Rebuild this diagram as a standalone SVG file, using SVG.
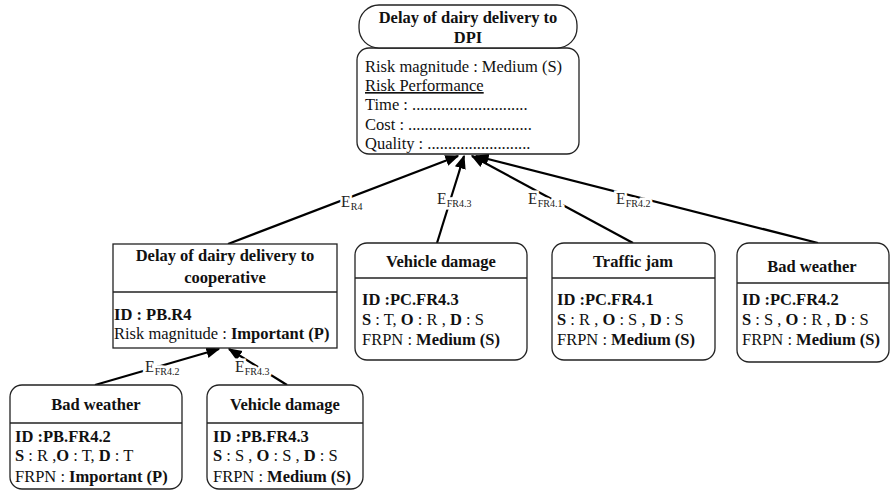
<svg xmlns="http://www.w3.org/2000/svg" width="890" height="492" viewBox="0 0 890 492" font-family="'Liberation Serif', 'DejaVu Serif', serif">
<defs>
<marker id="ahb" viewBox="0 0 10 10" refX="9" refY="5" markerWidth="14" markerHeight="14" markerUnits="userSpaceOnUse" orient="auto">
<path d="M0,1 L10,5 L0,9 z" fill="#000"/>
</marker>
</defs>
<style>
text{font-family:'Liberation Serif','DejaVu Serif',serif;font-size:16.5px;fill:#111}
.t{font-weight:bold;text-anchor:middle}
.b{font-weight:bold}
.box{fill:#fff;stroke:#222;stroke-width:1.3}
.div{stroke:#222;stroke-width:1.3}
.edge{stroke:#000;stroke-width:2.2;fill:none;marker-end:url(#ahb)}
.lbl{font-size:16px;fill:#222;stroke:#fff;stroke-width:5;paint-order:stroke}
.sub{font-size:10px}
</style>
<rect width="890" height="492" fill="#fff"/>
<g id="connectors">
<line class="edge" x1="228" y1="244" x2="458" y2="156"/>
<line class="edge" x1="437" y1="243" x2="464" y2="156"/>
<line class="edge" x1="633" y1="243" x2="472" y2="156"/>
<line class="edge" x1="818" y1="243" x2="476" y2="156"/>
<line class="edge" x1="95" y1="385" x2="219" y2="349"/>
<line class="edge" x1="287" y1="385" x2="229" y2="349"/>
<text class="lbl" x="341" y="207">E<tspan class="sub" dy="3">R4</tspan></text>
<text class="lbl" x="437" y="204">E<tspan class="sub" dy="3">FR4.3</tspan></text>
<text class="lbl" x="528" y="204">E<tspan class="sub" dy="3">FR4.1</tspan></text>
<text class="lbl" x="616" y="204">E<tspan class="sub" dy="3">FR4.2</tspan></text>
<text class="lbl" x="145" y="372">E<tspan class="sub" dy="3">FR4.2</tspan></text>
<text class="lbl" x="235" y="372">E<tspan class="sub" dy="3">FR4.3</tspan></text>
</g>
<g id="top">
<rect class="box" x="357" y="48" width="222" height="106" rx="12"/>
<rect class="box" x="359" y="5" width="218" height="43" rx="20"/>
<text class="t" x="468" y="23">Delay of dairy delivery to</text>
<text class="t" x="468" y="43">DPI</text>
<text x="365" y="72">Risk magnitude : Medium (S)</text>
<text x="365" y="91" text-decoration="underline">Risk Performance</text>
<text x="365" y="110">Time : ............................</text>
<text x="365" y="130">Cost : ..............................</text>
<text x="365" y="149">Quality : .........................</text>
</g>
<g id="coop">
<rect class="box" x="113" y="244" width="224" height="104"/>
<line class="div" x1="113" y1="292" x2="337" y2="292"/>
<text class="t" x="225" y="261">Delay of dairy delivery to</text>
<text class="t" x="225" y="283">cooperative</text>
<text class="b" x="114" y="320">ID : PB.R4</text>
<text x="114" y="339">Risk magnitude : <tspan class="b">Important (P)</tspan></text>
</g>
<g id="pc-fr43">
<rect class="box" x="355" y="243" width="172" height="117" rx="12"/>
<line class="div" x1="355" y1="278" x2="527" y2="278"/>
<text class="t" x="441" y="267">Vehicle damage</text>
<text class="b" x="362" y="305">ID :PC.FR4.3</text>
<text x="362" y="325"><tspan class="b">S</tspan>  : T,  <tspan class="b">O</tspan> : R , <tspan class="b">D</tspan> : S</text>
<text x="362" y="345">FRPN : <tspan class="b">Medium (S)</tspan></text>
</g>
<g id="pc-fr41">
<rect class="box" x="552" y="243" width="163" height="117" rx="12"/>
<line class="div" x1="552" y1="278" x2="715" y2="278"/>
<text class="t" x="633" y="267">Traffic jam</text>
<text class="b" x="557" y="305">ID :PC.FR4.1</text>
<text x="557" y="325"><tspan class="b">S</tspan>  : R , <tspan class="b">O</tspan> : S , <tspan class="b">D</tspan> : S</text>
<text x="557" y="345">FRPN :  <tspan class="b">Medium (S)</tspan></text>
</g>
<g id="pc-fr42">
<rect class="box" x="737" y="243" width="152" height="119" rx="12"/>
<line class="div" x1="737" y1="283" x2="889" y2="283"/>
<text class="t" x="812" y="272">Bad weather</text>
<text class="b" x="742" y="305">ID :PC.FR4.2</text>
<text x="742" y="325"><tspan class="b">S</tspan>  : S  , <tspan class="b">O</tspan> : R , <tspan class="b">D</tspan> : S</text>
<text x="742" y="345">FRPN :  <tspan class="b">Medium (S)</tspan></text>
</g>
<g id="pb-fr42">
<rect class="box" x="10" y="385" width="172" height="104" rx="12"/>
<line class="div" x1="10" y1="423" x2="182" y2="423"/>
<text class="t" x="96" y="410">Bad weather</text>
<text class="b" x="15" y="442">ID :PB.FR4.2</text>
<text x="15" y="461"><tspan class="b">S</tspan>  : R  ,<tspan class="b">O</tspan> : T, <tspan class="b">D</tspan> : T</text>
<text x="15" y="482">FRPN : <tspan class="b">Important (P)</tspan></text>
</g>
<g id="pb-fr43">
<rect class="box" x="207" y="385" width="156" height="104" rx="12"/>
<line class="div" x1="207" y1="423" x2="363" y2="423"/>
<text class="t" x="285" y="410">Vehicle damage</text>
<text class="b" x="213" y="442">ID :PB.FR4.3</text>
<text x="213" y="461"><tspan class="b">S</tspan>  : S  , <tspan class="b">O</tspan> : S , <tspan class="b">D</tspan> : S</text>
<text x="213" y="482">FRPN : <tspan class="b">Medium (S)</tspan></text>
</g>
</svg>
